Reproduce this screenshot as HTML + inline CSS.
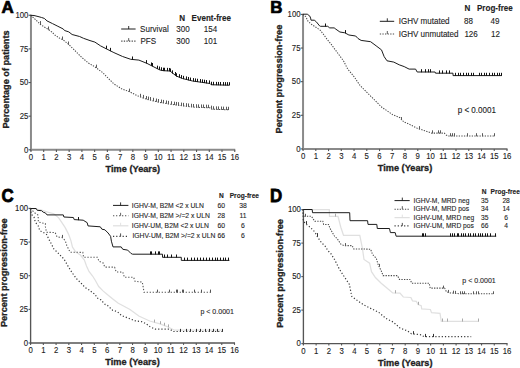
<!DOCTYPE html>
<html><head><meta charset="utf-8"><style>
html,body{margin:0;padding:0;background:#fff;}
svg{display:block;font-family:"Liberation Sans", sans-serif;}
</style></head><body>
<svg width="520" height="368" viewBox="0 0 520 368">
<rect width="520" height="368" fill="#fff"/>
<line x1="30.95" y1="14.75" x2="30.95" y2="150.80" stroke="#8a8a8a" stroke-width="2.0"/>
<line x1="29.95" y1="149.80" x2="235.25" y2="149.80" stroke="#8a8a8a" stroke-width="2.0"/>
<line x1="30.95" y1="149.80" x2="30.95" y2="152.00" stroke="#555" stroke-width="1.1"/>
<text x="0" y="0" transform="translate(30.95,160.00) scale(1,1.08)" font-size="7.8" text-anchor="middle" fill="#222" stroke="#222" stroke-width="0.1">0</text>
<line x1="43.69" y1="149.80" x2="43.69" y2="152.00" stroke="#555" stroke-width="1.1"/>
<text x="0" y="0" transform="translate(43.69,160.00) scale(1,1.08)" font-size="7.8" text-anchor="middle" fill="#222" stroke="#222" stroke-width="0.1">1</text>
<line x1="56.42" y1="149.80" x2="56.42" y2="152.00" stroke="#555" stroke-width="1.1"/>
<text x="0" y="0" transform="translate(56.42,160.00) scale(1,1.08)" font-size="7.8" text-anchor="middle" fill="#222" stroke="#222" stroke-width="0.1">2</text>
<line x1="69.16" y1="149.80" x2="69.16" y2="152.00" stroke="#555" stroke-width="1.1"/>
<text x="0" y="0" transform="translate(69.16,160.00) scale(1,1.08)" font-size="7.8" text-anchor="middle" fill="#222" stroke="#222" stroke-width="0.1">3</text>
<line x1="81.90" y1="149.80" x2="81.90" y2="152.00" stroke="#555" stroke-width="1.1"/>
<text x="0" y="0" transform="translate(81.90,160.00) scale(1,1.08)" font-size="7.8" text-anchor="middle" fill="#222" stroke="#222" stroke-width="0.1">4</text>
<line x1="94.64" y1="149.80" x2="94.64" y2="152.00" stroke="#555" stroke-width="1.1"/>
<text x="0" y="0" transform="translate(94.64,160.00) scale(1,1.08)" font-size="7.8" text-anchor="middle" fill="#222" stroke="#222" stroke-width="0.1">5</text>
<line x1="107.38" y1="149.80" x2="107.38" y2="152.00" stroke="#555" stroke-width="1.1"/>
<text x="0" y="0" transform="translate(107.38,160.00) scale(1,1.08)" font-size="7.8" text-anchor="middle" fill="#222" stroke="#222" stroke-width="0.1">6</text>
<line x1="120.11" y1="149.80" x2="120.11" y2="152.00" stroke="#555" stroke-width="1.1"/>
<text x="0" y="0" transform="translate(120.11,160.00) scale(1,1.08)" font-size="7.8" text-anchor="middle" fill="#222" stroke="#222" stroke-width="0.1">7</text>
<line x1="132.85" y1="149.80" x2="132.85" y2="152.00" stroke="#555" stroke-width="1.1"/>
<text x="0" y="0" transform="translate(132.85,160.00) scale(1,1.08)" font-size="7.8" text-anchor="middle" fill="#222" stroke="#222" stroke-width="0.1">8</text>
<line x1="145.59" y1="149.80" x2="145.59" y2="152.00" stroke="#555" stroke-width="1.1"/>
<text x="0" y="0" transform="translate(145.59,160.00) scale(1,1.08)" font-size="7.8" text-anchor="middle" fill="#222" stroke="#222" stroke-width="0.1">9</text>
<line x1="158.32" y1="149.80" x2="158.32" y2="152.00" stroke="#555" stroke-width="1.1"/>
<text x="0" y="0" transform="translate(158.32,160.00) scale(1,1.08)" font-size="7.8" text-anchor="middle" fill="#222" stroke="#222" stroke-width="0.1">10</text>
<line x1="171.06" y1="149.80" x2="171.06" y2="152.00" stroke="#555" stroke-width="1.1"/>
<text x="0" y="0" transform="translate(171.06,160.00) scale(1,1.08)" font-size="7.8" text-anchor="middle" fill="#222" stroke="#222" stroke-width="0.1">11</text>
<line x1="183.80" y1="149.80" x2="183.80" y2="152.00" stroke="#555" stroke-width="1.1"/>
<text x="0" y="0" transform="translate(183.80,160.00) scale(1,1.08)" font-size="7.8" text-anchor="middle" fill="#222" stroke="#222" stroke-width="0.1">12</text>
<line x1="196.54" y1="149.80" x2="196.54" y2="152.00" stroke="#555" stroke-width="1.1"/>
<text x="0" y="0" transform="translate(196.54,160.00) scale(1,1.08)" font-size="7.8" text-anchor="middle" fill="#222" stroke="#222" stroke-width="0.1">13</text>
<line x1="209.28" y1="149.80" x2="209.28" y2="152.00" stroke="#555" stroke-width="1.1"/>
<text x="0" y="0" transform="translate(209.28,160.00) scale(1,1.08)" font-size="7.8" text-anchor="middle" fill="#222" stroke="#222" stroke-width="0.1">14</text>
<line x1="222.01" y1="149.80" x2="222.01" y2="152.00" stroke="#555" stroke-width="1.1"/>
<text x="0" y="0" transform="translate(222.01,160.00) scale(1,1.08)" font-size="7.8" text-anchor="middle" fill="#222" stroke="#222" stroke-width="0.1">15</text>
<line x1="234.75" y1="149.80" x2="234.75" y2="152.00" stroke="#555" stroke-width="1.1"/>
<text x="0" y="0" transform="translate(234.75,160.00) scale(1,1.08)" font-size="7.8" text-anchor="middle" fill="#222" stroke="#222" stroke-width="0.1">16</text>
<line x1="28.55" y1="149.80" x2="30.95" y2="149.80" stroke="#555" stroke-width="1.1"/>
<text x="0" y="0" transform="translate(28.45,152.60) scale(1,1.08)" font-size="7.8" text-anchor="end" fill="#222" stroke="#222" stroke-width="0.1">0</text>
<line x1="28.55" y1="116.16" x2="30.95" y2="116.16" stroke="#555" stroke-width="1.1"/>
<text x="0" y="0" transform="translate(28.45,118.96) scale(1,1.08)" font-size="7.8" text-anchor="end" fill="#222" stroke="#222" stroke-width="0.1">25</text>
<line x1="28.55" y1="82.53" x2="30.95" y2="82.53" stroke="#555" stroke-width="1.1"/>
<text x="0" y="0" transform="translate(28.45,85.33) scale(1,1.08)" font-size="7.8" text-anchor="end" fill="#222" stroke="#222" stroke-width="0.1">50</text>
<line x1="28.55" y1="48.89" x2="30.95" y2="48.89" stroke="#555" stroke-width="1.1"/>
<text x="0" y="0" transform="translate(28.45,51.69) scale(1,1.08)" font-size="7.8" text-anchor="end" fill="#222" stroke="#222" stroke-width="0.1">75</text>
<line x1="28.55" y1="15.25" x2="30.95" y2="15.25" stroke="#555" stroke-width="1.1"/>
<text x="0" y="0" transform="translate(28.45,18.05) scale(1,1.08)" font-size="7.8" text-anchor="end" fill="#222" stroke="#222" stroke-width="0.1">100</text>
<text x="0" y="0" transform="translate(132.85,171.60) scale(1,1.08)" font-size="9.2" font-weight="bold" text-anchor="middle" fill="#222" stroke="#222" stroke-width="0.3">Time (Years)</text>
<line x1="303.05" y1="13.90" x2="303.05" y2="149.90" stroke="#8a8a8a" stroke-width="2.0"/>
<line x1="302.05" y1="148.90" x2="507.50" y2="148.90" stroke="#8a8a8a" stroke-width="2.0"/>
<line x1="303.05" y1="148.90" x2="303.05" y2="151.10" stroke="#555" stroke-width="1.1"/>
<text x="0" y="0" transform="translate(303.05,158.60) scale(1,1.08)" font-size="7.8" text-anchor="middle" fill="#222" stroke="#222" stroke-width="0.1">0</text>
<line x1="315.80" y1="148.90" x2="315.80" y2="151.10" stroke="#555" stroke-width="1.1"/>
<text x="0" y="0" transform="translate(315.80,158.60) scale(1,1.08)" font-size="7.8" text-anchor="middle" fill="#222" stroke="#222" stroke-width="0.1">1</text>
<line x1="328.54" y1="148.90" x2="328.54" y2="151.10" stroke="#555" stroke-width="1.1"/>
<text x="0" y="0" transform="translate(328.54,158.60) scale(1,1.08)" font-size="7.8" text-anchor="middle" fill="#222" stroke="#222" stroke-width="0.1">2</text>
<line x1="341.29" y1="148.90" x2="341.29" y2="151.10" stroke="#555" stroke-width="1.1"/>
<text x="0" y="0" transform="translate(341.29,158.60) scale(1,1.08)" font-size="7.8" text-anchor="middle" fill="#222" stroke="#222" stroke-width="0.1">3</text>
<line x1="354.04" y1="148.90" x2="354.04" y2="151.10" stroke="#555" stroke-width="1.1"/>
<text x="0" y="0" transform="translate(354.04,158.60) scale(1,1.08)" font-size="7.8" text-anchor="middle" fill="#222" stroke="#222" stroke-width="0.1">4</text>
<line x1="366.78" y1="148.90" x2="366.78" y2="151.10" stroke="#555" stroke-width="1.1"/>
<text x="0" y="0" transform="translate(366.78,158.60) scale(1,1.08)" font-size="7.8" text-anchor="middle" fill="#222" stroke="#222" stroke-width="0.1">5</text>
<line x1="379.53" y1="148.90" x2="379.53" y2="151.10" stroke="#555" stroke-width="1.1"/>
<text x="0" y="0" transform="translate(379.53,158.60) scale(1,1.08)" font-size="7.8" text-anchor="middle" fill="#222" stroke="#222" stroke-width="0.1">6</text>
<line x1="392.28" y1="148.90" x2="392.28" y2="151.10" stroke="#555" stroke-width="1.1"/>
<text x="0" y="0" transform="translate(392.28,158.60) scale(1,1.08)" font-size="7.8" text-anchor="middle" fill="#222" stroke="#222" stroke-width="0.1">7</text>
<line x1="405.02" y1="148.90" x2="405.02" y2="151.10" stroke="#555" stroke-width="1.1"/>
<text x="0" y="0" transform="translate(405.02,158.60) scale(1,1.08)" font-size="7.8" text-anchor="middle" fill="#222" stroke="#222" stroke-width="0.1">8</text>
<line x1="417.77" y1="148.90" x2="417.77" y2="151.10" stroke="#555" stroke-width="1.1"/>
<text x="0" y="0" transform="translate(417.77,158.60) scale(1,1.08)" font-size="7.8" text-anchor="middle" fill="#222" stroke="#222" stroke-width="0.1">9</text>
<line x1="430.52" y1="148.90" x2="430.52" y2="151.10" stroke="#555" stroke-width="1.1"/>
<text x="0" y="0" transform="translate(430.52,158.60) scale(1,1.08)" font-size="7.8" text-anchor="middle" fill="#222" stroke="#222" stroke-width="0.1">10</text>
<line x1="443.27" y1="148.90" x2="443.27" y2="151.10" stroke="#555" stroke-width="1.1"/>
<text x="0" y="0" transform="translate(443.27,158.60) scale(1,1.08)" font-size="7.8" text-anchor="middle" fill="#222" stroke="#222" stroke-width="0.1">11</text>
<line x1="456.01" y1="148.90" x2="456.01" y2="151.10" stroke="#555" stroke-width="1.1"/>
<text x="0" y="0" transform="translate(456.01,158.60) scale(1,1.08)" font-size="7.8" text-anchor="middle" fill="#222" stroke="#222" stroke-width="0.1">12</text>
<line x1="468.76" y1="148.90" x2="468.76" y2="151.10" stroke="#555" stroke-width="1.1"/>
<text x="0" y="0" transform="translate(468.76,158.60) scale(1,1.08)" font-size="7.8" text-anchor="middle" fill="#222" stroke="#222" stroke-width="0.1">13</text>
<line x1="481.51" y1="148.90" x2="481.51" y2="151.10" stroke="#555" stroke-width="1.1"/>
<text x="0" y="0" transform="translate(481.51,158.60) scale(1,1.08)" font-size="7.8" text-anchor="middle" fill="#222" stroke="#222" stroke-width="0.1">14</text>
<line x1="494.25" y1="148.90" x2="494.25" y2="151.10" stroke="#555" stroke-width="1.1"/>
<text x="0" y="0" transform="translate(494.25,158.60) scale(1,1.08)" font-size="7.8" text-anchor="middle" fill="#222" stroke="#222" stroke-width="0.1">15</text>
<line x1="507.00" y1="148.90" x2="507.00" y2="151.10" stroke="#555" stroke-width="1.1"/>
<text x="0" y="0" transform="translate(507.00,158.60) scale(1,1.08)" font-size="7.8" text-anchor="middle" fill="#222" stroke="#222" stroke-width="0.1">16</text>
<line x1="300.65" y1="148.90" x2="303.05" y2="148.90" stroke="#555" stroke-width="1.1"/>
<text x="0" y="0" transform="translate(300.55,151.70) scale(1,1.08)" font-size="7.8" text-anchor="end" fill="#222" stroke="#222" stroke-width="0.1">0</text>
<line x1="300.65" y1="115.28" x2="303.05" y2="115.28" stroke="#555" stroke-width="1.1"/>
<text x="0" y="0" transform="translate(300.55,118.08) scale(1,1.08)" font-size="7.8" text-anchor="end" fill="#222" stroke="#222" stroke-width="0.1">25</text>
<line x1="300.65" y1="81.65" x2="303.05" y2="81.65" stroke="#555" stroke-width="1.1"/>
<text x="0" y="0" transform="translate(300.55,84.45) scale(1,1.08)" font-size="7.8" text-anchor="end" fill="#222" stroke="#222" stroke-width="0.1">50</text>
<line x1="300.65" y1="48.03" x2="303.05" y2="48.03" stroke="#555" stroke-width="1.1"/>
<text x="0" y="0" transform="translate(300.55,50.83) scale(1,1.08)" font-size="7.8" text-anchor="end" fill="#222" stroke="#222" stroke-width="0.1">75</text>
<line x1="300.65" y1="14.40" x2="303.05" y2="14.40" stroke="#555" stroke-width="1.1"/>
<text x="0" y="0" transform="translate(300.55,17.20) scale(1,1.08)" font-size="7.8" text-anchor="end" fill="#222" stroke="#222" stroke-width="0.1">100</text>
<text x="0" y="0" transform="translate(405.02,171.00) scale(1,1.08)" font-size="9.2" font-weight="bold" text-anchor="middle" fill="#222" stroke="#222" stroke-width="0.3">Time (Years)</text>
<line x1="30.60" y1="207.90" x2="30.60" y2="343.68" stroke="#555" stroke-width="1.35"/>
<line x1="29.93" y1="343.00" x2="235.00" y2="343.00" stroke="#555" stroke-width="1.35"/>
<line x1="30.60" y1="343.00" x2="30.60" y2="344.88" stroke="#555" stroke-width="1.1"/>
<text x="0" y="0" transform="translate(30.60,352.90) scale(1,1.08)" font-size="7.8" text-anchor="middle" fill="#222" stroke="#222" stroke-width="0.1">0</text>
<line x1="43.34" y1="343.00" x2="43.34" y2="344.88" stroke="#555" stroke-width="1.1"/>
<text x="0" y="0" transform="translate(43.34,352.90) scale(1,1.08)" font-size="7.8" text-anchor="middle" fill="#222" stroke="#222" stroke-width="0.1">1</text>
<line x1="56.09" y1="343.00" x2="56.09" y2="344.88" stroke="#555" stroke-width="1.1"/>
<text x="0" y="0" transform="translate(56.09,352.90) scale(1,1.08)" font-size="7.8" text-anchor="middle" fill="#222" stroke="#222" stroke-width="0.1">2</text>
<line x1="68.83" y1="343.00" x2="68.83" y2="344.88" stroke="#555" stroke-width="1.1"/>
<text x="0" y="0" transform="translate(68.83,352.90) scale(1,1.08)" font-size="7.8" text-anchor="middle" fill="#222" stroke="#222" stroke-width="0.1">3</text>
<line x1="81.58" y1="343.00" x2="81.58" y2="344.88" stroke="#555" stroke-width="1.1"/>
<text x="0" y="0" transform="translate(81.58,352.90) scale(1,1.08)" font-size="7.8" text-anchor="middle" fill="#222" stroke="#222" stroke-width="0.1">4</text>
<line x1="94.32" y1="343.00" x2="94.32" y2="344.88" stroke="#555" stroke-width="1.1"/>
<text x="0" y="0" transform="translate(94.32,352.90) scale(1,1.08)" font-size="7.8" text-anchor="middle" fill="#222" stroke="#222" stroke-width="0.1">5</text>
<line x1="107.06" y1="343.00" x2="107.06" y2="344.88" stroke="#555" stroke-width="1.1"/>
<text x="0" y="0" transform="translate(107.06,352.90) scale(1,1.08)" font-size="7.8" text-anchor="middle" fill="#222" stroke="#222" stroke-width="0.1">6</text>
<line x1="119.81" y1="343.00" x2="119.81" y2="344.88" stroke="#555" stroke-width="1.1"/>
<text x="0" y="0" transform="translate(119.81,352.90) scale(1,1.08)" font-size="7.8" text-anchor="middle" fill="#222" stroke="#222" stroke-width="0.1">7</text>
<line x1="132.55" y1="343.00" x2="132.55" y2="344.88" stroke="#555" stroke-width="1.1"/>
<text x="0" y="0" transform="translate(132.55,352.90) scale(1,1.08)" font-size="7.8" text-anchor="middle" fill="#222" stroke="#222" stroke-width="0.1">8</text>
<line x1="145.29" y1="343.00" x2="145.29" y2="344.88" stroke="#555" stroke-width="1.1"/>
<text x="0" y="0" transform="translate(145.29,352.90) scale(1,1.08)" font-size="7.8" text-anchor="middle" fill="#222" stroke="#222" stroke-width="0.1">9</text>
<line x1="158.04" y1="343.00" x2="158.04" y2="344.88" stroke="#555" stroke-width="1.1"/>
<text x="0" y="0" transform="translate(158.04,352.90) scale(1,1.08)" font-size="7.8" text-anchor="middle" fill="#222" stroke="#222" stroke-width="0.1">10</text>
<line x1="170.78" y1="343.00" x2="170.78" y2="344.88" stroke="#555" stroke-width="1.1"/>
<text x="0" y="0" transform="translate(170.78,352.90) scale(1,1.08)" font-size="7.8" text-anchor="middle" fill="#222" stroke="#222" stroke-width="0.1">11</text>
<line x1="183.53" y1="343.00" x2="183.53" y2="344.88" stroke="#555" stroke-width="1.1"/>
<text x="0" y="0" transform="translate(183.53,352.90) scale(1,1.08)" font-size="7.8" text-anchor="middle" fill="#222" stroke="#222" stroke-width="0.1">12</text>
<line x1="196.27" y1="343.00" x2="196.27" y2="344.88" stroke="#555" stroke-width="1.1"/>
<text x="0" y="0" transform="translate(196.27,352.90) scale(1,1.08)" font-size="7.8" text-anchor="middle" fill="#222" stroke="#222" stroke-width="0.1">13</text>
<line x1="209.01" y1="343.00" x2="209.01" y2="344.88" stroke="#555" stroke-width="1.1"/>
<text x="0" y="0" transform="translate(209.01,352.90) scale(1,1.08)" font-size="7.8" text-anchor="middle" fill="#222" stroke="#222" stroke-width="0.1">14</text>
<line x1="221.76" y1="343.00" x2="221.76" y2="344.88" stroke="#555" stroke-width="1.1"/>
<text x="0" y="0" transform="translate(221.76,352.90) scale(1,1.08)" font-size="7.8" text-anchor="middle" fill="#222" stroke="#222" stroke-width="0.1">15</text>
<line x1="234.50" y1="343.00" x2="234.50" y2="344.88" stroke="#555" stroke-width="1.1"/>
<text x="0" y="0" transform="translate(234.50,352.90) scale(1,1.08)" font-size="7.8" text-anchor="middle" fill="#222" stroke="#222" stroke-width="0.1">16</text>
<line x1="28.53" y1="343.00" x2="30.60" y2="343.00" stroke="#555" stroke-width="1.1"/>
<text x="0" y="0" transform="translate(28.10,345.80) scale(1,1.08)" font-size="7.8" text-anchor="end" fill="#222" stroke="#222" stroke-width="0.1">0</text>
<line x1="28.53" y1="309.35" x2="30.60" y2="309.35" stroke="#555" stroke-width="1.1"/>
<text x="0" y="0" transform="translate(28.10,312.15) scale(1,1.08)" font-size="7.8" text-anchor="end" fill="#222" stroke="#222" stroke-width="0.1">25</text>
<line x1="28.53" y1="275.70" x2="30.60" y2="275.70" stroke="#555" stroke-width="1.1"/>
<text x="0" y="0" transform="translate(28.10,278.50) scale(1,1.08)" font-size="7.8" text-anchor="end" fill="#222" stroke="#222" stroke-width="0.1">50</text>
<line x1="28.53" y1="242.05" x2="30.60" y2="242.05" stroke="#555" stroke-width="1.1"/>
<text x="0" y="0" transform="translate(28.10,244.85) scale(1,1.08)" font-size="7.8" text-anchor="end" fill="#222" stroke="#222" stroke-width="0.1">75</text>
<line x1="28.53" y1="208.40" x2="30.60" y2="208.40" stroke="#555" stroke-width="1.1"/>
<text x="0" y="0" transform="translate(28.10,211.20) scale(1,1.08)" font-size="7.8" text-anchor="end" fill="#222" stroke="#222" stroke-width="0.1">100</text>
<text x="0" y="0" transform="translate(132.55,364.80) scale(1,1.08)" font-size="9.2" font-weight="bold" text-anchor="middle" fill="#222" stroke="#222" stroke-width="0.3">Time (Years)</text>
<line x1="303.40" y1="209.10" x2="303.40" y2="344.28" stroke="#555" stroke-width="1.35"/>
<line x1="302.72" y1="343.60" x2="507.50" y2="343.60" stroke="#555" stroke-width="1.35"/>
<line x1="303.40" y1="343.60" x2="303.40" y2="345.48" stroke="#555" stroke-width="1.1"/>
<text x="0" y="0" transform="translate(303.40,354.40) scale(1,1.08)" font-size="7.8" text-anchor="middle" fill="#222" stroke="#222" stroke-width="0.1">0</text>
<line x1="316.12" y1="343.60" x2="316.12" y2="345.48" stroke="#555" stroke-width="1.1"/>
<text x="0" y="0" transform="translate(316.12,354.40) scale(1,1.08)" font-size="7.8" text-anchor="middle" fill="#222" stroke="#222" stroke-width="0.1">1</text>
<line x1="328.85" y1="343.60" x2="328.85" y2="345.48" stroke="#555" stroke-width="1.1"/>
<text x="0" y="0" transform="translate(328.85,354.40) scale(1,1.08)" font-size="7.8" text-anchor="middle" fill="#222" stroke="#222" stroke-width="0.1">2</text>
<line x1="341.57" y1="343.60" x2="341.57" y2="345.48" stroke="#555" stroke-width="1.1"/>
<text x="0" y="0" transform="translate(341.57,354.40) scale(1,1.08)" font-size="7.8" text-anchor="middle" fill="#222" stroke="#222" stroke-width="0.1">3</text>
<line x1="354.30" y1="343.60" x2="354.30" y2="345.48" stroke="#555" stroke-width="1.1"/>
<text x="0" y="0" transform="translate(354.30,354.40) scale(1,1.08)" font-size="7.8" text-anchor="middle" fill="#222" stroke="#222" stroke-width="0.1">4</text>
<line x1="367.02" y1="343.60" x2="367.02" y2="345.48" stroke="#555" stroke-width="1.1"/>
<text x="0" y="0" transform="translate(367.02,354.40) scale(1,1.08)" font-size="7.8" text-anchor="middle" fill="#222" stroke="#222" stroke-width="0.1">5</text>
<line x1="379.75" y1="343.60" x2="379.75" y2="345.48" stroke="#555" stroke-width="1.1"/>
<text x="0" y="0" transform="translate(379.75,354.40) scale(1,1.08)" font-size="7.8" text-anchor="middle" fill="#222" stroke="#222" stroke-width="0.1">6</text>
<line x1="392.48" y1="343.60" x2="392.48" y2="345.48" stroke="#555" stroke-width="1.1"/>
<text x="0" y="0" transform="translate(392.48,354.40) scale(1,1.08)" font-size="7.8" text-anchor="middle" fill="#222" stroke="#222" stroke-width="0.1">7</text>
<line x1="405.20" y1="343.60" x2="405.20" y2="345.48" stroke="#555" stroke-width="1.1"/>
<text x="0" y="0" transform="translate(405.20,354.40) scale(1,1.08)" font-size="7.8" text-anchor="middle" fill="#222" stroke="#222" stroke-width="0.1">8</text>
<line x1="417.92" y1="343.60" x2="417.92" y2="345.48" stroke="#555" stroke-width="1.1"/>
<text x="0" y="0" transform="translate(417.92,354.40) scale(1,1.08)" font-size="7.8" text-anchor="middle" fill="#222" stroke="#222" stroke-width="0.1">9</text>
<line x1="430.65" y1="343.60" x2="430.65" y2="345.48" stroke="#555" stroke-width="1.1"/>
<text x="0" y="0" transform="translate(430.65,354.40) scale(1,1.08)" font-size="7.8" text-anchor="middle" fill="#222" stroke="#222" stroke-width="0.1">10</text>
<line x1="443.38" y1="343.60" x2="443.38" y2="345.48" stroke="#555" stroke-width="1.1"/>
<text x="0" y="0" transform="translate(443.38,354.40) scale(1,1.08)" font-size="7.8" text-anchor="middle" fill="#222" stroke="#222" stroke-width="0.1">11</text>
<line x1="456.10" y1="343.60" x2="456.10" y2="345.48" stroke="#555" stroke-width="1.1"/>
<text x="0" y="0" transform="translate(456.10,354.40) scale(1,1.08)" font-size="7.8" text-anchor="middle" fill="#222" stroke="#222" stroke-width="0.1">12</text>
<line x1="468.82" y1="343.60" x2="468.82" y2="345.48" stroke="#555" stroke-width="1.1"/>
<text x="0" y="0" transform="translate(468.82,354.40) scale(1,1.08)" font-size="7.8" text-anchor="middle" fill="#222" stroke="#222" stroke-width="0.1">13</text>
<line x1="481.55" y1="343.60" x2="481.55" y2="345.48" stroke="#555" stroke-width="1.1"/>
<text x="0" y="0" transform="translate(481.55,354.40) scale(1,1.08)" font-size="7.8" text-anchor="middle" fill="#222" stroke="#222" stroke-width="0.1">14</text>
<line x1="494.27" y1="343.60" x2="494.27" y2="345.48" stroke="#555" stroke-width="1.1"/>
<text x="0" y="0" transform="translate(494.27,354.40) scale(1,1.08)" font-size="7.8" text-anchor="middle" fill="#222" stroke="#222" stroke-width="0.1">15</text>
<line x1="507.00" y1="343.60" x2="507.00" y2="345.48" stroke="#555" stroke-width="1.1"/>
<text x="0" y="0" transform="translate(507.00,354.40) scale(1,1.08)" font-size="7.8" text-anchor="middle" fill="#222" stroke="#222" stroke-width="0.1">16</text>
<line x1="301.32" y1="343.60" x2="303.40" y2="343.60" stroke="#555" stroke-width="1.1"/>
<text x="0" y="0" transform="translate(300.90,346.40) scale(1,1.08)" font-size="7.8" text-anchor="end" fill="#222" stroke="#222" stroke-width="0.1">0</text>
<line x1="301.32" y1="310.10" x2="303.40" y2="310.10" stroke="#555" stroke-width="1.1"/>
<text x="0" y="0" transform="translate(300.90,312.90) scale(1,1.08)" font-size="7.8" text-anchor="end" fill="#222" stroke="#222" stroke-width="0.1">25</text>
<line x1="301.32" y1="276.60" x2="303.40" y2="276.60" stroke="#555" stroke-width="1.1"/>
<text x="0" y="0" transform="translate(300.90,279.40) scale(1,1.08)" font-size="7.8" text-anchor="end" fill="#222" stroke="#222" stroke-width="0.1">50</text>
<line x1="301.32" y1="243.10" x2="303.40" y2="243.10" stroke="#555" stroke-width="1.1"/>
<text x="0" y="0" transform="translate(300.90,245.90) scale(1,1.08)" font-size="7.8" text-anchor="end" fill="#222" stroke="#222" stroke-width="0.1">75</text>
<line x1="301.32" y1="209.60" x2="303.40" y2="209.60" stroke="#555" stroke-width="1.1"/>
<text x="0" y="0" transform="translate(300.90,212.40) scale(1,1.08)" font-size="7.8" text-anchor="end" fill="#222" stroke="#222" stroke-width="0.1">100</text>
<text x="0" y="0" transform="translate(405.20,365.60) scale(1,1.08)" font-size="9.2" font-weight="bold" text-anchor="middle" fill="#222" stroke="#222" stroke-width="0.3">Time (Years)</text>
<text x="0" y="0" font-size="9.15" font-weight="bold" text-anchor="middle" fill="#222" stroke="#222" stroke-width="0.3" transform="translate(9.10,79.50) rotate(-90) scale(1,1.08)">Percentage of patients</text>
<text x="0" y="0" font-size="9.15" font-weight="bold" text-anchor="middle" fill="#222" stroke="#222" stroke-width="0.3" transform="translate(281.70,79.10) rotate(-90) scale(1,1.08)">Percent progression-free</text>
<text x="0" y="0" font-size="9.15" font-weight="bold" text-anchor="middle" fill="#222" stroke="#222" stroke-width="0.3" transform="translate(7.40,272.70) rotate(-90) scale(1,1.08)">Percent progression-free</text>
<text x="0" y="0" font-size="9.15" font-weight="bold" text-anchor="middle" fill="#222" stroke="#222" stroke-width="0.3" transform="translate(283.00,273.50) rotate(-90) scale(1,1.08)">Percent progression-free</text>
<text x="0" y="0" font-size="16.6" font-weight="bold" fill="#000" stroke="#000" stroke-width="0.7" transform="translate(1.5,12.7) scale(1.02,1.0)">A</text>
<text x="0" y="0" font-size="16.6" font-weight="bold" fill="#000" stroke="#000" stroke-width="0.7" transform="translate(270.2,12.7) scale(1.02,1.0)">B</text>
<text x="0" y="0" font-size="16.6" font-weight="bold" fill="#000" stroke="#000" stroke-width="0.7" transform="translate(1.6,201.8) scale(1.02,1.08)">C</text>
<text x="0" y="0" font-size="16.6" font-weight="bold" fill="#000" stroke="#000" stroke-width="0.7" transform="translate(269.9,202.0) scale(1.02,1.08)">D</text>
<text x="0" y="0" transform="translate(179.20,21.00) scale(1,1.08)" font-size="8.05" font-weight="bold" fill="#222" stroke="#222" stroke-width="0.12">N</text>
<text x="0" y="0" transform="translate(191.60,21.00) scale(1,1.08)" font-size="8.05" font-weight="bold" fill="#222" stroke="#222" stroke-width="0.12">Event-free</text>
<text x="0" y="0" transform="translate(140.10,31.90) scale(1,1.08)" font-size="8.05" fill="#222" stroke="#222" stroke-width="0.1">Survival</text>
<text x="0" y="0" transform="translate(176.20,31.90) scale(1,1.08)" font-size="8.05" fill="#222" stroke="#222" stroke-width="0.1">300</text>
<text x="0" y="0" transform="translate(203.70,31.90) scale(1,1.08)" font-size="8.05" fill="#222" stroke="#222" stroke-width="0.1">154</text>
<text x="0" y="0" transform="translate(140.40,44.40) scale(1,1.08)" font-size="8.05" fill="#222" stroke="#222" stroke-width="0.1">PFS</text>
<text x="0" y="0" transform="translate(176.20,44.40) scale(1,1.08)" font-size="8.05" fill="#222" stroke="#222" stroke-width="0.1">300</text>
<text x="0" y="0" transform="translate(203.70,44.40) scale(1,1.08)" font-size="8.05" fill="#222" stroke="#222" stroke-width="0.1">101</text>
<text x="0" y="0" transform="translate(464.60,11.00) scale(1,1.08)" font-size="8.05" font-weight="bold" fill="#222" stroke="#222" stroke-width="0.12">N</text>
<text x="0" y="0" transform="translate(477.00,11.00) scale(1,1.08)" font-size="8.05" font-weight="bold" fill="#222" stroke="#222" stroke-width="0.12">Prog-free</text>
<text x="0" y="0" transform="translate(398.70,24.20) scale(1,1.08)" font-size="8.05" fill="#222" stroke="#222" stroke-width="0.1">IGHV mutated</text>
<text x="0" y="0" transform="translate(464.00,24.20) scale(1,1.08)" font-size="8.05" fill="#222" stroke="#222" stroke-width="0.1">88</text>
<text x="0" y="0" transform="translate(490.60,24.20) scale(1,1.08)" font-size="8.05" fill="#222" stroke="#222" stroke-width="0.1">49</text>
<text x="0" y="0" transform="translate(398.70,36.90) scale(1,1.08)" font-size="8.05" fill="#222" stroke="#222" stroke-width="0.1">IGHV unmutated</text>
<text x="0" y="0" transform="translate(464.40,36.90) scale(1,1.08)" font-size="8.05" fill="#222" stroke="#222" stroke-width="0.1">126</text>
<text x="0" y="0" transform="translate(491.10,36.90) scale(1,1.08)" font-size="8.05" fill="#222" stroke="#222" stroke-width="0.1">12</text>
<text x="0" y="0" transform="translate(457.70,112.50) scale(1,1.08)" font-size="8.05" fill="#222" stroke="#222" stroke-width="0.1">p &lt; 0.0001</text>
<text x="0" y="0" transform="translate(218.90,197.80) scale(1,1.08)" font-size="6.6" font-weight="bold" fill="#222" stroke="#222" stroke-width="0.12">N</text>
<text x="0" y="0" transform="translate(229.70,197.80) scale(1,1.08)" font-size="6.6" font-weight="bold" fill="#222" stroke="#222" stroke-width="0.12">Prog-free</text>
<text x="0" y="0" transform="translate(131.80,207.80) scale(1,1.08)" font-size="6.8" fill="#222" stroke="#222" stroke-width="0.1">IGHV-M, B2M &lt;2 x ULN</text>
<text x="0" y="0" transform="translate(217.40,207.80) scale(1,1.08)" font-size="6.8" fill="#222" stroke="#222" stroke-width="0.1">60</text>
<text x="0" y="0" transform="translate(243.00,207.80) scale(1,1.08)" font-size="6.8" text-anchor="middle" fill="#222" stroke="#222" stroke-width="0.1">38</text>
<text x="0" y="0" transform="translate(131.80,218.00) scale(1,1.08)" font-size="6.8" fill="#222" stroke="#222" stroke-width="0.1">IGHV-M, B2M &gt;/=2 x ULN</text>
<text x="0" y="0" transform="translate(217.40,218.00) scale(1,1.08)" font-size="6.8" fill="#222" stroke="#222" stroke-width="0.1">28</text>
<text x="0" y="0" transform="translate(243.00,218.00) scale(1,1.08)" font-size="6.8" text-anchor="middle" fill="#222" stroke="#222" stroke-width="0.1">11</text>
<text x="0" y="0" transform="translate(131.80,228.20) scale(1,1.08)" font-size="6.8" fill="#222" stroke="#222" stroke-width="0.1">IGHV-UM, B2M &lt;2 x ULN</text>
<text x="0" y="0" transform="translate(217.40,228.20) scale(1,1.08)" font-size="6.8" fill="#222" stroke="#222" stroke-width="0.1">60</text>
<text x="0" y="0" transform="translate(243.00,228.20) scale(1,1.08)" font-size="6.8" text-anchor="middle" fill="#222" stroke="#222" stroke-width="0.1">6</text>
<text x="0" y="0" transform="translate(132.40,238.40) scale(1,1.08)" font-size="6.8" fill="#222" stroke="#222" stroke-width="0.1">IGHV-UM, B2M &gt;/=2 x ULN</text>
<text x="0" y="0" transform="translate(217.40,238.40) scale(1,1.08)" font-size="6.8" fill="#222" stroke="#222" stroke-width="0.1">66</text>
<text x="0" y="0" transform="translate(243.00,238.40) scale(1,1.08)" font-size="6.8" text-anchor="middle" fill="#222" stroke="#222" stroke-width="0.1">6</text>
<text x="0" y="0" transform="translate(200.40,314.40) scale(1,1.08)" font-size="7.05" fill="#222" stroke="#222" stroke-width="0.1">p &lt; 0.0001</text>
<text x="0" y="0" transform="translate(481.80,193.80) scale(1,1.08)" font-size="6.6" font-weight="bold" fill="#222" stroke="#222" stroke-width="0.12">N</text>
<text x="0" y="0" transform="translate(490.50,193.80) scale(1,1.08)" font-size="6.6" font-weight="bold" fill="#222" stroke="#222" stroke-width="0.12">Prog-free</text>
<text x="0" y="0" transform="translate(413.60,202.60) scale(1,1.08)" font-size="6.7" fill="#222" stroke="#222" stroke-width="0.1">IGHV-M, MRD neg</text>
<text x="0" y="0" transform="translate(481.00,202.60) scale(1,1.08)" font-size="6.7" fill="#222" stroke="#222" stroke-width="0.1">35</text>
<text x="0" y="0" transform="translate(506.10,202.60) scale(1,1.08)" font-size="6.7" text-anchor="middle" fill="#222" stroke="#222" stroke-width="0.1">28</text>
<text x="0" y="0" transform="translate(413.60,211.05) scale(1,1.08)" font-size="6.7" fill="#222" stroke="#222" stroke-width="0.1">IGHV-M, MRD pos</text>
<text x="0" y="0" transform="translate(481.00,211.05) scale(1,1.08)" font-size="6.7" fill="#222" stroke="#222" stroke-width="0.1">34</text>
<text x="0" y="0" transform="translate(506.10,211.05) scale(1,1.08)" font-size="6.7" text-anchor="middle" fill="#222" stroke="#222" stroke-width="0.1">14</text>
<text x="0" y="0" transform="translate(413.60,219.50) scale(1,1.08)" font-size="6.7" fill="#222" stroke="#222" stroke-width="0.1">IGHV-UM, MRD neg</text>
<text x="0" y="0" transform="translate(481.00,219.50) scale(1,1.08)" font-size="6.7" fill="#222" stroke="#222" stroke-width="0.1">35</text>
<text x="0" y="0" transform="translate(506.10,219.50) scale(1,1.08)" font-size="6.7" text-anchor="middle" fill="#222" stroke="#222" stroke-width="0.1">6</text>
<text x="0" y="0" transform="translate(413.60,227.95) scale(1,1.08)" font-size="6.7" fill="#222" stroke="#222" stroke-width="0.1">IGHV-UM, MRD pos</text>
<text x="0" y="0" transform="translate(481.00,227.95) scale(1,1.08)" font-size="6.7" fill="#222" stroke="#222" stroke-width="0.1">66</text>
<text x="0" y="0" transform="translate(506.10,227.95) scale(1,1.08)" font-size="6.7" text-anchor="middle" fill="#222" stroke="#222" stroke-width="0.1">4</text>
<text x="0" y="0" transform="translate(462.30,282.60) scale(1,1.08)" font-size="7.05" fill="#222" stroke="#222" stroke-width="0.1">p &lt; 0.0001</text>
<line x1="121.2" y1="29.0" x2="135.6" y2="29.0" stroke="#1c1c1c" stroke-width="1.0"/>
<line x1="128.7" y1="29.0" x2="128.7" y2="26.0" stroke="#1c1c1c" stroke-width="0.9"/>
<line x1="121.2" y1="41.1" x2="135.6" y2="41.1" stroke="#4a4a4a" stroke-width="1.05" stroke-dasharray="1.3 1.3"/>
<line x1="128.7" y1="41.1" x2="128.7" y2="38.1" stroke="#4a4a4a" stroke-width="0.9"/>
<line x1="379.8" y1="21.3" x2="394.2" y2="21.3" stroke="#1c1c1c" stroke-width="1.0"/>
<line x1="387.3" y1="21.3" x2="387.3" y2="18.3" stroke="#1c1c1c" stroke-width="0.9"/>
<line x1="379.8" y1="34.0" x2="394.2" y2="34.0" stroke="#4a4a4a" stroke-width="1.05" stroke-dasharray="1.3 1.3"/>
<line x1="387.3" y1="34.0" x2="387.3" y2="31.0" stroke="#4a4a4a" stroke-width="0.9"/>
<line x1="113.0" y1="205.4" x2="128.4" y2="205.4" stroke="#1c1c1c" stroke-width="1.0"/>
<line x1="120.6" y1="205.4" x2="120.6" y2="202.4" stroke="#1c1c1c" stroke-width="0.9"/>
<line x1="113.0" y1="215.8" x2="128.4" y2="215.8" stroke="#555" stroke-width="1.1" stroke-dasharray="1.3 1.7"/>
<line x1="120.6" y1="215.8" x2="120.6" y2="212.8" stroke="#555" stroke-width="0.9"/>
<line x1="113.0" y1="225.8" x2="128.4" y2="225.8" stroke="#e0e0e0" stroke-width="1.25"/>
<line x1="120.6" y1="225.8" x2="120.6" y2="222.8" stroke="#e0e0e0" stroke-width="0.9"/>
<line x1="113.0" y1="236.4" x2="128.4" y2="236.4" stroke="#3a3a3a" stroke-width="1.2" stroke-dasharray="1.2 2.0"/>
<line x1="120.6" y1="236.4" x2="120.6" y2="233.4" stroke="#3a3a3a" stroke-width="0.9"/>
<line x1="394.5" y1="200.6" x2="409.7" y2="200.6" stroke="#1c1c1c" stroke-width="1.0"/>
<line x1="402.3" y1="200.6" x2="402.3" y2="197.6" stroke="#1c1c1c" stroke-width="0.9"/>
<line x1="394.5" y1="209.2" x2="409.7" y2="209.2" stroke="#4a4a4a" stroke-width="1.05" stroke-dasharray="1.3 1.3"/>
<line x1="402.3" y1="209.2" x2="402.3" y2="206.2" stroke="#4a4a4a" stroke-width="0.9"/>
<line x1="394.5" y1="217.6" x2="409.7" y2="217.6" stroke="#e0e0e0" stroke-width="1.25"/>
<line x1="402.3" y1="217.6" x2="402.3" y2="214.6" stroke="#e0e0e0" stroke-width="0.9"/>
<line x1="394.5" y1="225.9" x2="409.7" y2="225.9" stroke="#3a3a3a" stroke-width="1.2" stroke-dasharray="1.2 2.0"/>
<line x1="402.3" y1="225.9" x2="402.3" y2="222.9" stroke="#3a3a3a" stroke-width="0.9"/>
<polyline points="30.50,15.30 34.10,18.20 37.50,21.50 40.20,24.30 44.30,27.00 48.40,29.50 51.80,32.00 55.20,35.30 59.30,38.00 62.60,39.50 68.30,44.00 74.00,49.70 81.60,57.30 88.30,63.00 94.90,66.80 102.50,72.50 108.20,78.20 113.90,83.90 121.50,88.70 130.00,92.00 138.10,96.10 146.20,99.10 158.30,102.10 170.40,104.20 182.50,105.80 194.60,107.20 209.80,107.80 211.80,109.20 229.00,109.80" fill="none" stroke="#4a4a4a" stroke-width="1.05" stroke-linejoin="miter" stroke-dasharray="1.3 1.3"/>
<polyline points="30.50,15.30 34.00,15.50 38.00,16.50 41.60,17.50 44.30,18.40 47.00,20.90 52.50,23.60 57.90,26.30 63.30,29.00 64.50,30.50 68.80,31.90 72.10,34.50 79.60,36.50 83.50,38.30 90.00,40.60 94.90,42.10 100.60,45.90 106.30,48.80 113.90,52.60 122.60,56.50 130.70,59.30 138.90,60.10 147.00,63.40 155.00,67.50 160.00,70.00 163.30,70.70 170.00,71.00 176.25,76.00 182.50,78.50 192.50,81.00 201.25,82.25 210.00,83.50 211.25,84.75 229.00,85.20" fill="none" stroke="#1c1c1c" stroke-width="1.0" stroke-linejoin="miter"/>
<line x1="106.50" y1="48.95" x2="106.50" y2="45.65" stroke="#111" stroke-width="1"/>
<line x1="110.50" y1="51.15" x2="110.50" y2="47.85" stroke="#111" stroke-width="1"/>
<line x1="132.50" y1="59.78" x2="132.50" y2="56.48" stroke="#111" stroke-width="1"/>
<line x1="146.50" y1="63.41" x2="146.50" y2="60.11" stroke="#111" stroke-width="1"/>
<line x1="151.50" y1="65.75" x2="151.50" y2="62.45" stroke="#111" stroke-width="1"/>
<line x1="152.50" y1="66.31" x2="152.50" y2="63.01" stroke="#111" stroke-width="1"/>
<line x1="157.50" y1="68.95" x2="157.50" y2="65.65" stroke="#111" stroke-width="1"/>
<line x1="159.50" y1="69.80" x2="159.50" y2="66.50" stroke="#111" stroke-width="1"/>
<line x1="161.50" y1="70.58" x2="161.50" y2="67.28" stroke="#111" stroke-width="1"/>
<line x1="163.50" y1="71.01" x2="163.50" y2="67.71" stroke="#111" stroke-width="1"/>
<line x1="164.50" y1="71.07" x2="164.50" y2="67.77" stroke="#111" stroke-width="1"/>
<line x1="167.50" y1="71.17" x2="167.50" y2="67.87" stroke="#111" stroke-width="1"/>
<line x1="169.50" y1="71.27" x2="169.50" y2="67.97" stroke="#111" stroke-width="1"/>
<line x1="170.50" y1="71.78" x2="170.50" y2="68.48" stroke="#111" stroke-width="1"/>
<line x1="172.50" y1="73.62" x2="172.50" y2="70.32" stroke="#111" stroke-width="1"/>
<line x1="175.50" y1="75.30" x2="175.50" y2="72.00" stroke="#111" stroke-width="1"/>
<line x1="176.50" y1="76.56" x2="176.50" y2="73.26" stroke="#111" stroke-width="1"/>
<line x1="179.50" y1="77.48" x2="179.50" y2="74.18" stroke="#111" stroke-width="1"/>
<line x1="181.50" y1="78.40" x2="181.50" y2="75.10" stroke="#111" stroke-width="1"/>
<line x1="183.50" y1="79.12" x2="183.50" y2="75.83" stroke="#111" stroke-width="1"/>
<line x1="186.50" y1="79.70" x2="186.50" y2="76.40" stroke="#111" stroke-width="1"/>
<line x1="188.50" y1="80.27" x2="188.50" y2="76.97" stroke="#111" stroke-width="1"/>
<line x1="190.50" y1="80.85" x2="190.50" y2="77.55" stroke="#111" stroke-width="1"/>
<line x1="193.50" y1="81.39" x2="193.50" y2="78.09" stroke="#111" stroke-width="1"/>
<line x1="195.50" y1="81.71" x2="195.50" y2="78.41" stroke="#111" stroke-width="1"/>
<line x1="197.50" y1="82.04" x2="197.50" y2="78.74" stroke="#111" stroke-width="1"/>
<line x1="200.50" y1="82.37" x2="200.50" y2="79.07" stroke="#111" stroke-width="1"/>
<line x1="202.50" y1="82.70" x2="202.50" y2="79.40" stroke="#111" stroke-width="1"/>
<line x1="204.50" y1="83.03" x2="204.50" y2="79.73" stroke="#111" stroke-width="1"/>
<line x1="206.50" y1="83.36" x2="206.50" y2="80.06" stroke="#111" stroke-width="1"/>
<line x1="209.50" y1="83.69" x2="209.50" y2="80.39" stroke="#111" stroke-width="1"/>
<line x1="211.50" y1="85.06" x2="211.50" y2="81.76" stroke="#111" stroke-width="1"/>
<line x1="213.50" y1="85.11" x2="213.50" y2="81.81" stroke="#111" stroke-width="1"/>
<line x1="216.50" y1="85.17" x2="216.50" y2="81.87" stroke="#111" stroke-width="1"/>
<line x1="218.50" y1="85.23" x2="218.50" y2="81.93" stroke="#111" stroke-width="1"/>
<line x1="220.50" y1="85.29" x2="220.50" y2="81.99" stroke="#111" stroke-width="1"/>
<line x1="223.50" y1="85.35" x2="223.50" y2="82.05" stroke="#111" stroke-width="1"/>
<line x1="225.50" y1="85.41" x2="225.50" y2="82.11" stroke="#111" stroke-width="1"/>
<line x1="227.50" y1="85.46" x2="227.50" y2="82.16" stroke="#111" stroke-width="1"/>
<line x1="229.50" y1="85.50" x2="229.50" y2="82.20" stroke="#111" stroke-width="1"/>
<line x1="40.50" y1="24.39" x2="40.50" y2="21.09" stroke="#5a5a5a" stroke-width="1"/>
<line x1="48.50" y1="29.80" x2="48.50" y2="26.50" stroke="#5a5a5a" stroke-width="1"/>
<line x1="62.50" y1="39.80" x2="62.50" y2="36.50" stroke="#5a5a5a" stroke-width="1"/>
<line x1="68.50" y1="44.80" x2="68.50" y2="41.50" stroke="#5a5a5a" stroke-width="1"/>
<line x1="96.50" y1="67.92" x2="96.50" y2="64.62" stroke="#5a5a5a" stroke-width="1"/>
<line x1="129.50" y1="91.91" x2="129.50" y2="88.61" stroke="#5a5a5a" stroke-width="1"/>
<line x1="140.50" y1="97.10" x2="140.50" y2="93.80" stroke="#5a5a5a" stroke-width="1"/>
<line x1="143.50" y1="98.21" x2="143.50" y2="94.91" stroke="#5a5a5a" stroke-width="1"/>
<line x1="146.50" y1="99.33" x2="146.50" y2="96.03" stroke="#5a5a5a" stroke-width="1"/>
<line x1="148.50" y1="99.85" x2="148.50" y2="96.55" stroke="#5a5a5a" stroke-width="1"/>
<line x1="150.50" y1="100.34" x2="150.50" y2="97.04" stroke="#5a5a5a" stroke-width="1"/>
<line x1="153.50" y1="101.09" x2="153.50" y2="97.79" stroke="#5a5a5a" stroke-width="1"/>
<line x1="156.50" y1="101.83" x2="156.50" y2="98.53" stroke="#5a5a5a" stroke-width="1"/>
<line x1="158.50" y1="102.33" x2="158.50" y2="99.03" stroke="#5a5a5a" stroke-width="1"/>
<line x1="161.50" y1="102.87" x2="161.50" y2="99.57" stroke="#5a5a5a" stroke-width="1"/>
<line x1="163.50" y1="103.22" x2="163.50" y2="99.92" stroke="#5a5a5a" stroke-width="1"/>
<line x1="166.50" y1="103.74" x2="166.50" y2="100.44" stroke="#5a5a5a" stroke-width="1"/>
<line x1="168.50" y1="104.17" x2="168.50" y2="100.87" stroke="#5a5a5a" stroke-width="1"/>
<line x1="171.50" y1="104.58" x2="171.50" y2="101.28" stroke="#5a5a5a" stroke-width="1"/>
<line x1="174.50" y1="104.98" x2="174.50" y2="101.68" stroke="#5a5a5a" stroke-width="1"/>
<line x1="176.50" y1="105.24" x2="176.50" y2="101.94" stroke="#5a5a5a" stroke-width="1"/>
<line x1="178.50" y1="105.50" x2="178.50" y2="102.20" stroke="#5a5a5a" stroke-width="1"/>
<line x1="181.50" y1="105.90" x2="181.50" y2="102.60" stroke="#5a5a5a" stroke-width="1"/>
<line x1="183.50" y1="106.16" x2="183.50" y2="102.86" stroke="#5a5a5a" stroke-width="1"/>
<line x1="186.50" y1="106.50" x2="186.50" y2="103.20" stroke="#5a5a5a" stroke-width="1"/>
<line x1="188.50" y1="106.79" x2="188.50" y2="103.49" stroke="#5a5a5a" stroke-width="1"/>
<line x1="191.50" y1="107.08" x2="191.50" y2="103.78" stroke="#5a5a5a" stroke-width="1"/>
<line x1="193.50" y1="107.31" x2="193.50" y2="104.01" stroke="#5a5a5a" stroke-width="1"/>
<line x1="196.50" y1="107.56" x2="196.50" y2="104.26" stroke="#5a5a5a" stroke-width="1"/>
<line x1="198.50" y1="107.65" x2="198.50" y2="104.35" stroke="#5a5a5a" stroke-width="1"/>
<line x1="201.50" y1="107.75" x2="201.50" y2="104.45" stroke="#5a5a5a" stroke-width="1"/>
<line x1="203.50" y1="107.83" x2="203.50" y2="104.53" stroke="#5a5a5a" stroke-width="1"/>
<line x1="206.50" y1="107.95" x2="206.50" y2="104.65" stroke="#5a5a5a" stroke-width="1"/>
<line x1="208.50" y1="108.03" x2="208.50" y2="104.73" stroke="#5a5a5a" stroke-width="1"/>
<line x1="211.50" y1="108.94" x2="211.50" y2="105.64" stroke="#5a5a5a" stroke-width="1"/>
<line x1="213.50" y1="109.56" x2="213.50" y2="106.26" stroke="#5a5a5a" stroke-width="1"/>
<line x1="216.50" y1="109.65" x2="216.50" y2="106.35" stroke="#5a5a5a" stroke-width="1"/>
<line x1="218.50" y1="109.72" x2="218.50" y2="106.42" stroke="#5a5a5a" stroke-width="1"/>
<line x1="221.50" y1="109.82" x2="221.50" y2="106.52" stroke="#5a5a5a" stroke-width="1"/>
<line x1="223.50" y1="109.91" x2="223.50" y2="106.61" stroke="#5a5a5a" stroke-width="1"/>
<line x1="226.50" y1="110.00" x2="226.50" y2="106.70" stroke="#5a5a5a" stroke-width="1"/>
<line x1="228.50" y1="110.08" x2="228.50" y2="106.78" stroke="#5a5a5a" stroke-width="1"/>
<polyline points="302.90,14.40 303.30,14.90 305.70,16.50 308.10,21.40 311.40,24.30 316.30,27.50 320.40,30.40 323.60,34.50 327.00,39.20 331.00,44.00 335.30,49.90 339.50,55.50 343.50,60.80 347.60,68.90 354.30,77.00 359.80,85.20 365.20,90.70 373.40,98.80 381.50,107.00 392.40,114.50 400.00,117.70 403.80,122.00 409.60,124.40 417.30,128.30 423.10,130.20 431.70,133.10 444.20,133.10 446.20,135.00 448.10,136.00 495.00,136.00" fill="none" stroke="#4a4a4a" stroke-width="1.05" stroke-linejoin="miter" stroke-dasharray="1.3 1.3"/>
<polyline points="302.90,14.20 307.30,14.20 309.80,16.10 310.60,18.10 311.00,20.20 314.30,20.20 316.30,21.80 319.60,25.90 320.40,26.30 327.70,26.30 329.70,27.90 334.20,27.90 335.90,29.20 339.90,32.00 344.80,32.80 348.90,35.00 355.70,36.00 358.00,38.50 361.10,40.40 370.60,41.70 376.10,45.80 381.50,49.90 384.20,56.70 387.00,60.80 393.80,62.10 399.20,64.80 404.20,66.60 409.10,69.10 415.60,69.10 417.20,72.00 435.10,72.00 435.50,73.20 453.00,73.20 453.00,75.60 501.60,75.60" fill="none" stroke="#1c1c1c" stroke-width="1.0" stroke-linejoin="miter"/>
<line x1="325.50" y1="26.60" x2="325.50" y2="23.50" stroke="#111" stroke-width="1"/>
<line x1="345.50" y1="33.21" x2="345.50" y2="30.11" stroke="#111" stroke-width="1"/>
<line x1="421.50" y1="72.30" x2="421.50" y2="69.20" stroke="#111" stroke-width="1"/>
<line x1="425.50" y1="72.30" x2="425.50" y2="69.20" stroke="#111" stroke-width="1"/>
<line x1="428.50" y1="72.30" x2="428.50" y2="69.20" stroke="#111" stroke-width="1"/>
<line x1="430.50" y1="72.30" x2="430.50" y2="69.20" stroke="#111" stroke-width="1"/>
<line x1="439.50" y1="73.50" x2="439.50" y2="70.40" stroke="#111" stroke-width="1"/>
<line x1="442.50" y1="73.50" x2="442.50" y2="70.40" stroke="#111" stroke-width="1"/>
<line x1="446.50" y1="73.50" x2="446.50" y2="70.40" stroke="#111" stroke-width="1"/>
<line x1="449.50" y1="73.50" x2="449.50" y2="70.40" stroke="#111" stroke-width="1"/>
<line x1="455.50" y1="75.90" x2="455.50" y2="72.80" stroke="#111" stroke-width="1"/>
<line x1="458.50" y1="75.90" x2="458.50" y2="72.80" stroke="#111" stroke-width="1"/>
<line x1="460.50" y1="75.90" x2="460.50" y2="72.80" stroke="#111" stroke-width="1"/>
<line x1="463.50" y1="75.90" x2="463.50" y2="72.80" stroke="#111" stroke-width="1"/>
<line x1="466.50" y1="75.90" x2="466.50" y2="72.80" stroke="#111" stroke-width="1"/>
<line x1="468.50" y1="75.90" x2="468.50" y2="72.80" stroke="#111" stroke-width="1"/>
<line x1="471.50" y1="75.90" x2="471.50" y2="72.80" stroke="#111" stroke-width="1"/>
<line x1="473.50" y1="75.90" x2="473.50" y2="72.80" stroke="#111" stroke-width="1"/>
<line x1="479.50" y1="75.90" x2="479.50" y2="72.80" stroke="#111" stroke-width="1"/>
<line x1="481.50" y1="75.90" x2="481.50" y2="72.80" stroke="#111" stroke-width="1"/>
<line x1="484.50" y1="75.90" x2="484.50" y2="72.80" stroke="#111" stroke-width="1"/>
<line x1="486.50" y1="75.90" x2="486.50" y2="72.80" stroke="#111" stroke-width="1"/>
<line x1="489.50" y1="75.90" x2="489.50" y2="72.80" stroke="#111" stroke-width="1"/>
<line x1="492.50" y1="75.90" x2="492.50" y2="72.80" stroke="#111" stroke-width="1"/>
<line x1="494.50" y1="75.90" x2="494.50" y2="72.80" stroke="#111" stroke-width="1"/>
<line x1="497.50" y1="75.90" x2="497.50" y2="72.80" stroke="#111" stroke-width="1"/>
<line x1="499.50" y1="75.90" x2="499.50" y2="72.80" stroke="#111" stroke-width="1"/>
<line x1="501.50" y1="75.90" x2="501.50" y2="72.80" stroke="#111" stroke-width="1"/>
<line x1="401.50" y1="120.15" x2="401.50" y2="117.05" stroke="#5a5a5a" stroke-width="1"/>
<line x1="419.50" y1="129.22" x2="419.50" y2="126.12" stroke="#5a5a5a" stroke-width="1"/>
<line x1="432.50" y1="133.40" x2="432.50" y2="130.30" stroke="#5a5a5a" stroke-width="1"/>
<line x1="438.50" y1="133.40" x2="438.50" y2="130.30" stroke="#5a5a5a" stroke-width="1"/>
<line x1="440.50" y1="133.40" x2="440.50" y2="130.30" stroke="#5a5a5a" stroke-width="1"/>
<line x1="450.50" y1="136.30" x2="450.50" y2="133.20" stroke="#5a5a5a" stroke-width="1"/>
<line x1="452.50" y1="136.30" x2="452.50" y2="133.20" stroke="#5a5a5a" stroke-width="1"/>
<line x1="454.50" y1="136.30" x2="454.50" y2="133.20" stroke="#5a5a5a" stroke-width="1"/>
<line x1="467.50" y1="136.30" x2="467.50" y2="133.20" stroke="#5a5a5a" stroke-width="1"/>
<line x1="476.50" y1="136.30" x2="476.50" y2="133.20" stroke="#5a5a5a" stroke-width="1"/>
<line x1="482.50" y1="136.30" x2="482.50" y2="133.20" stroke="#5a5a5a" stroke-width="1"/>
<line x1="494.50" y1="136.30" x2="494.50" y2="133.20" stroke="#5a5a5a" stroke-width="1"/>
<polyline points="30.40,208.50 40.00,209.50 47.60,212.20 53.80,213.70 58.70,217.80 61.90,222.70 65.20,227.60 68.50,234.10 70.90,240.60 72.50,247.20 75.80,252.00 80.40,255.00 84.40,260.00 86.50,266.00 89.00,271.50 92.60,276.00 95.40,280.50 98.70,286.50 103.00,290.90 108.50,295.50 112.80,299.00 118.30,303.30 122.60,305.50 130.00,309.50 138.80,316.00 149.70,321.00 160.00,323.80 166.50,326.30 174.60,330.20 222.70,330.20" fill="none" stroke="#e0e0e0" stroke-width="1.25" stroke-linejoin="miter"/>
<polyline points="30.40,208.50 32.00,210.00 34.50,212.70 37.80,214.90 38.30,218.10 38.30,221.90 42.10,223.00 45.40,223.60 45.40,226.80 46.50,232.30 55.20,232.50 56.30,235.50 57.30,237.00 61.90,237.40 65.20,240.60 66.80,245.50 70.10,252.20 82.80,252.40 83.60,257.30 97.40,257.30 99.10,261.40 103.20,263.00 104.80,267.10 114.60,267.10 116.20,272.00 122.80,272.10 124.40,277.30 133.70,277.30 135.00,281.30 142.30,282.10 143.20,287.30 144.00,292.20 211.50,292.20" fill="none" stroke="#555" stroke-width="1.1" stroke-linejoin="miter" stroke-dasharray="1.3 1.7"/>
<polyline points="30.40,208.50 31.30,214.30 34.00,217.00 35.10,221.40 36.70,224.10 38.90,226.80 39.40,230.10 41.00,231.20 43.20,232.30 46.50,234.40 47.60,236.60 49.20,239.90 50.50,242.30 53.80,248.80 58.70,253.70 61.90,257.00 64.00,259.00 68.20,266.50 72.00,272.50 76.30,278.50 81.90,284.00 85.20,287.60 90.10,290.50 92.60,293.00 94.90,294.00 97.10,297.90 100.80,299.80 105.20,304.50 107.60,305.50 112.80,310.40 117.10,311.50 121.50,315.50 127.90,318.00 135.80,321.00 141.20,321.50 145.80,323.50 149.70,326.50 155.00,329.20 170.00,329.20 173.00,331.50 222.70,331.50" fill="none" stroke="#3a3a3a" stroke-width="1.2" stroke-linejoin="miter" stroke-dasharray="1.2 2.0"/>
<polyline points="30.40,208.50 36.20,208.50 37.20,210.30 41.60,210.70 43.20,212.20 45.40,212.90 47.00,214.90 63.30,214.90 63.90,217.00 73.40,217.50 74.20,219.60 83.20,220.20 87.20,222.70 88.00,225.90 100.30,226.80 101.90,229.20 104.90,229.80 108.10,233.00 110.60,236.30 111.40,241.20 113.00,246.90 121.20,246.90 122.80,249.30 127.70,250.10 130.90,253.40 132.60,254.20 162.50,254.20 162.50,257.30 181.30,257.30 181.30,260.40 229.40,260.40" fill="none" stroke="#1c1c1c" stroke-width="1.0" stroke-linejoin="miter"/>
<line x1="78.50" y1="220.15" x2="78.50" y2="217.05" stroke="#111" stroke-width="1"/>
<line x1="150.50" y1="254.50" x2="150.50" y2="251.40" stroke="#111" stroke-width="1"/>
<line x1="151.50" y1="254.50" x2="151.50" y2="251.40" stroke="#111" stroke-width="1"/>
<line x1="155.50" y1="254.50" x2="155.50" y2="251.40" stroke="#111" stroke-width="1"/>
<line x1="158.50" y1="254.50" x2="158.50" y2="251.40" stroke="#111" stroke-width="1"/>
<line x1="159.50" y1="254.50" x2="159.50" y2="251.40" stroke="#111" stroke-width="1"/>
<line x1="164.50" y1="257.60" x2="164.50" y2="254.50" stroke="#111" stroke-width="1"/>
<line x1="167.50" y1="257.60" x2="167.50" y2="254.50" stroke="#111" stroke-width="1"/>
<line x1="171.50" y1="257.60" x2="171.50" y2="254.50" stroke="#111" stroke-width="1"/>
<line x1="176.50" y1="257.60" x2="176.50" y2="254.50" stroke="#111" stroke-width="1"/>
<line x1="184.50" y1="260.70" x2="184.50" y2="257.60" stroke="#111" stroke-width="1"/>
<line x1="187.50" y1="260.70" x2="187.50" y2="257.60" stroke="#111" stroke-width="1"/>
<line x1="191.50" y1="260.70" x2="191.50" y2="257.60" stroke="#111" stroke-width="1"/>
<line x1="194.50" y1="260.70" x2="194.50" y2="257.60" stroke="#111" stroke-width="1"/>
<line x1="197.50" y1="260.70" x2="197.50" y2="257.60" stroke="#111" stroke-width="1"/>
<line x1="200.50" y1="260.70" x2="200.50" y2="257.60" stroke="#111" stroke-width="1"/>
<line x1="203.50" y1="260.70" x2="203.50" y2="257.60" stroke="#111" stroke-width="1"/>
<line x1="206.50" y1="260.70" x2="206.50" y2="257.60" stroke="#111" stroke-width="1"/>
<line x1="209.50" y1="260.70" x2="209.50" y2="257.60" stroke="#111" stroke-width="1"/>
<line x1="212.50" y1="260.70" x2="212.50" y2="257.60" stroke="#111" stroke-width="1"/>
<line x1="215.50" y1="260.70" x2="215.50" y2="257.60" stroke="#111" stroke-width="1"/>
<line x1="217.50" y1="260.70" x2="217.50" y2="257.60" stroke="#111" stroke-width="1"/>
<line x1="220.50" y1="260.70" x2="220.50" y2="257.60" stroke="#111" stroke-width="1"/>
<line x1="223.50" y1="260.70" x2="223.50" y2="257.60" stroke="#111" stroke-width="1"/>
<line x1="225.50" y1="260.70" x2="225.50" y2="257.60" stroke="#111" stroke-width="1"/>
<line x1="228.50" y1="260.70" x2="228.50" y2="257.60" stroke="#111" stroke-width="1"/>
<line x1="62.50" y1="237.80" x2="62.50" y2="234.90" stroke="#555" stroke-width="1"/>
<line x1="157.50" y1="292.50" x2="157.50" y2="289.60" stroke="#555" stroke-width="1"/>
<line x1="169.50" y1="292.50" x2="169.50" y2="289.60" stroke="#555" stroke-width="1"/>
<line x1="176.50" y1="292.50" x2="176.50" y2="289.60" stroke="#555" stroke-width="1"/>
<line x1="177.50" y1="292.50" x2="177.50" y2="289.60" stroke="#555" stroke-width="1"/>
<line x1="182.50" y1="292.50" x2="182.50" y2="289.60" stroke="#555" stroke-width="1"/>
<line x1="183.50" y1="292.50" x2="183.50" y2="289.60" stroke="#555" stroke-width="1"/>
<line x1="194.50" y1="292.50" x2="194.50" y2="289.60" stroke="#555" stroke-width="1"/>
<line x1="201.50" y1="292.50" x2="201.50" y2="289.60" stroke="#555" stroke-width="1"/>
<line x1="210.50" y1="292.50" x2="210.50" y2="289.60" stroke="#555" stroke-width="1"/>
<line x1="154.50" y1="322.47" x2="154.50" y2="319.57" stroke="#aaa" stroke-width="1"/>
<line x1="160.50" y1="324.10" x2="160.50" y2="321.20" stroke="#aaa" stroke-width="1"/>
<line x1="164.50" y1="325.64" x2="164.50" y2="322.74" stroke="#aaa" stroke-width="1"/>
<line x1="168.50" y1="327.32" x2="168.50" y2="324.42" stroke="#aaa" stroke-width="1"/>
<line x1="180.50" y1="331.80" x2="180.50" y2="328.90" stroke="#333" stroke-width="1"/>
<line x1="186.50" y1="331.80" x2="186.50" y2="328.90" stroke="#333" stroke-width="1"/>
<line x1="190.50" y1="331.80" x2="190.50" y2="328.90" stroke="#333" stroke-width="1"/>
<line x1="196.50" y1="331.80" x2="196.50" y2="328.90" stroke="#333" stroke-width="1"/>
<line x1="200.50" y1="331.80" x2="200.50" y2="328.90" stroke="#333" stroke-width="1"/>
<line x1="205.50" y1="331.80" x2="205.50" y2="328.90" stroke="#333" stroke-width="1"/>
<line x1="209.50" y1="331.80" x2="209.50" y2="328.90" stroke="#333" stroke-width="1"/>
<line x1="213.50" y1="331.80" x2="213.50" y2="328.90" stroke="#333" stroke-width="1"/>
<line x1="217.50" y1="331.80" x2="217.50" y2="328.90" stroke="#333" stroke-width="1"/>
<line x1="222.50" y1="331.80" x2="222.50" y2="328.90" stroke="#333" stroke-width="1"/>
<polyline points="303.10,209.50 329.30,209.50 329.50,216.30 338.00,216.30 340.80,227.20 343.50,235.30 359.80,235.30 362.50,248.90 364.00,259.50 369.60,263.10 371.50,271.70 375.40,277.50 381.20,283.30 386.90,288.10 392.70,292.90 400.00,293.20 403.30,297.00 410.90,297.50 412.50,300.80 416.30,301.30 418.00,304.60 421.20,305.70 421.70,308.90 430.40,309.50 431.50,312.70 440.00,313.30 441.30,321.30 478.80,321.30" fill="none" stroke="#e0e0e0" stroke-width="1.25" stroke-linejoin="miter"/>
<polyline points="303.10,209.50 303.30,216.30 311.40,216.30 314.70,221.20 322.80,221.20 323.60,224.40 328.50,224.40 330.10,228.50 334.20,235.80 337.50,239.10 340.70,244.00 344.00,245.60 352.10,245.60 353.70,248.90 370.60,249.20 372.50,254.40 376.30,258.30 378.30,265.00 381.20,270.80 383.10,275.60 397.50,275.60 399.40,279.40 410.00,279.40 411.90,283.30 429.20,283.30 430.20,288.10 444.60,288.10 446.50,291.90 450.40,292.90 460.00,293.80 493.30,293.80" fill="none" stroke="#4a4a4a" stroke-width="1.05" stroke-linejoin="miter" stroke-dasharray="1.3 1.3"/>
<polyline points="303.10,209.50 303.30,221.20 306.50,224.40 309.80,226.90 314.70,231.80 317.90,237.50 321.20,242.30 326.10,247.20 327.30,250.00 330.90,253.70 334.70,259.80 339.60,269.60 344.40,276.90 349.30,284.20 351.80,296.50 356.70,300.10 364.00,305.00 371.30,308.70 378.70,312.30 386.00,318.50 393.30,322.10 400.00,328.00 407.70,331.00 411.50,333.80 421.20,334.80 424.00,336.70 471.20,336.70" fill="none" stroke="#3a3a3a" stroke-width="1.2" stroke-linejoin="miter" stroke-dasharray="1.2 2.0"/>
<polyline points="303.10,209.50 312.20,209.50 312.50,212.70 349.70,212.70 350.00,220.70 367.60,220.70 368.00,224.40 376.80,224.40 377.30,228.50 389.50,228.50 390.40,232.60 395.20,232.60 396.10,236.20 496.20,236.20" fill="none" stroke="#1c1c1c" stroke-width="1.0" stroke-linejoin="miter"/>
<line x1="422.50" y1="236.50" x2="422.50" y2="233.30" stroke="#111" stroke-width="1"/>
<line x1="423.50" y1="236.50" x2="423.50" y2="233.30" stroke="#111" stroke-width="1"/>
<line x1="425.50" y1="236.50" x2="425.50" y2="233.30" stroke="#111" stroke-width="1"/>
<line x1="450.50" y1="236.50" x2="450.50" y2="233.30" stroke="#111" stroke-width="1"/>
<line x1="452.50" y1="236.50" x2="452.50" y2="233.30" stroke="#111" stroke-width="1"/>
<line x1="454.50" y1="236.50" x2="454.50" y2="233.30" stroke="#111" stroke-width="1"/>
<line x1="457.50" y1="236.50" x2="457.50" y2="233.30" stroke="#111" stroke-width="1"/>
<line x1="458.50" y1="236.50" x2="458.50" y2="233.30" stroke="#111" stroke-width="1"/>
<line x1="461.50" y1="236.50" x2="461.50" y2="233.30" stroke="#111" stroke-width="1"/>
<line x1="463.50" y1="236.50" x2="463.50" y2="233.30" stroke="#111" stroke-width="1"/>
<line x1="465.50" y1="236.50" x2="465.50" y2="233.30" stroke="#111" stroke-width="1"/>
<line x1="468.50" y1="236.50" x2="468.50" y2="233.30" stroke="#111" stroke-width="1"/>
<line x1="470.50" y1="236.50" x2="470.50" y2="233.30" stroke="#111" stroke-width="1"/>
<line x1="473.50" y1="236.50" x2="473.50" y2="233.30" stroke="#111" stroke-width="1"/>
<line x1="475.50" y1="236.50" x2="475.50" y2="233.30" stroke="#111" stroke-width="1"/>
<line x1="478.50" y1="236.50" x2="478.50" y2="233.30" stroke="#111" stroke-width="1"/>
<line x1="480.50" y1="236.50" x2="480.50" y2="233.30" stroke="#111" stroke-width="1"/>
<line x1="482.50" y1="236.50" x2="482.50" y2="233.30" stroke="#111" stroke-width="1"/>
<line x1="485.50" y1="236.50" x2="485.50" y2="233.30" stroke="#111" stroke-width="1"/>
<line x1="487.50" y1="236.50" x2="487.50" y2="233.30" stroke="#111" stroke-width="1"/>
<line x1="490.50" y1="236.50" x2="490.50" y2="233.30" stroke="#111" stroke-width="1"/>
<line x1="495.50" y1="236.50" x2="495.50" y2="233.30" stroke="#111" stroke-width="1"/>
<line x1="305.50" y1="216.60" x2="305.50" y2="213.80" stroke="#5a5a5a" stroke-width="1"/>
<line x1="345.50" y1="245.90" x2="345.50" y2="243.10" stroke="#5a5a5a" stroke-width="1"/>
<line x1="379.50" y1="266.70" x2="379.50" y2="263.90" stroke="#5a5a5a" stroke-width="1"/>
<line x1="443.50" y1="288.40" x2="443.50" y2="285.60" stroke="#5a5a5a" stroke-width="1"/>
<line x1="448.50" y1="292.71" x2="448.50" y2="289.91" stroke="#5a5a5a" stroke-width="1"/>
<line x1="453.50" y1="293.45" x2="453.50" y2="290.65" stroke="#5a5a5a" stroke-width="1"/>
<line x1="455.50" y1="293.67" x2="455.50" y2="290.87" stroke="#5a5a5a" stroke-width="1"/>
<line x1="460.50" y1="294.10" x2="460.50" y2="291.30" stroke="#5a5a5a" stroke-width="1"/>
<line x1="462.50" y1="294.10" x2="462.50" y2="291.30" stroke="#5a5a5a" stroke-width="1"/>
<line x1="464.50" y1="294.10" x2="464.50" y2="291.30" stroke="#5a5a5a" stroke-width="1"/>
<line x1="473.50" y1="294.10" x2="473.50" y2="291.30" stroke="#5a5a5a" stroke-width="1"/>
<line x1="476.50" y1="294.10" x2="476.50" y2="291.30" stroke="#5a5a5a" stroke-width="1"/>
<line x1="478.50" y1="294.10" x2="478.50" y2="291.30" stroke="#5a5a5a" stroke-width="1"/>
<line x1="493.50" y1="294.10" x2="493.50" y2="291.30" stroke="#5a5a5a" stroke-width="1"/>
<line x1="335.50" y1="216.60" x2="335.50" y2="213.50" stroke="#aaa" stroke-width="1"/>
<line x1="395.50" y1="293.29" x2="395.50" y2="290.19" stroke="#aaa" stroke-width="1"/>
<line x1="418.50" y1="304.90" x2="418.50" y2="301.80" stroke="#aaa" stroke-width="1"/>
<line x1="442.50" y1="321.60" x2="442.50" y2="318.50" stroke="#aaa" stroke-width="1"/>
<line x1="447.50" y1="321.60" x2="447.50" y2="318.50" stroke="#aaa" stroke-width="1"/>
<line x1="462.50" y1="321.60" x2="462.50" y2="318.50" stroke="#aaa" stroke-width="1"/>
<line x1="478.50" y1="321.60" x2="478.50" y2="318.50" stroke="#aaa" stroke-width="1"/>
<line x1="306.50" y1="224.20" x2="306.50" y2="221.10" stroke="#333" stroke-width="1"/>
<line x1="317.50" y1="236.20" x2="317.50" y2="233.10" stroke="#333" stroke-width="1"/>
<line x1="413.50" y1="334.25" x2="413.50" y2="331.15" stroke="#333" stroke-width="1"/>
<line x1="425.50" y1="337.00" x2="425.50" y2="333.90" stroke="#333" stroke-width="1"/>
<line x1="433.50" y1="337.00" x2="433.50" y2="333.90" stroke="#333" stroke-width="1"/>
</svg>
</body></html>
